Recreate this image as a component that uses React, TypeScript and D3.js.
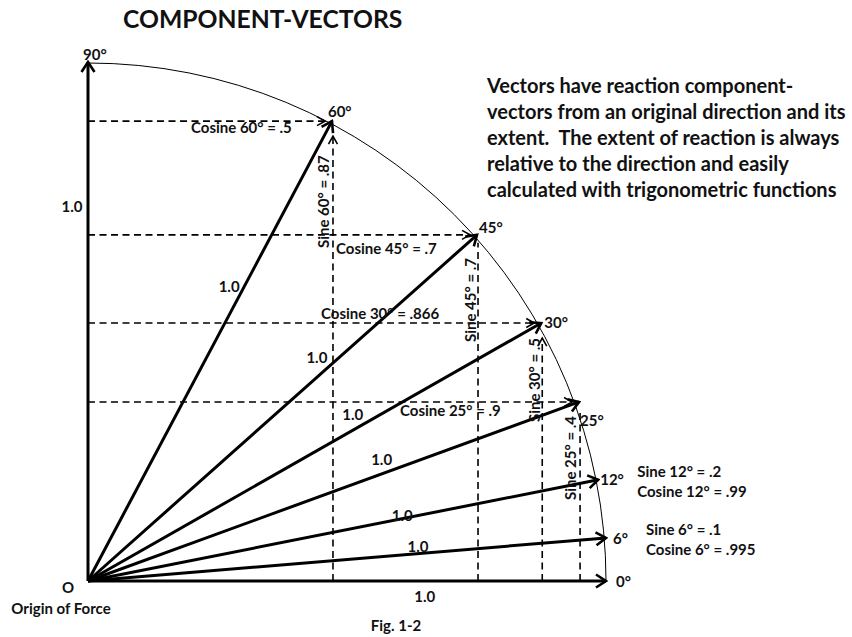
import React from "react";
import * as d3 from "d3";

// ---- data ----
const angleLabels = ["90°", "60°", "45°", "30°", "25°", "12°", "6°", "0°"];
const tipCos = [0, 0.471, 0.751, 0.875, 0.948, 0.985, 1.0, 1.0];
const tipSin = [1, 0.886, 0.667, 0.497, 0.345, 0.195, 0.083, 0];
const magnitudeLabel = "1.0";

// component projections (index into vectors above)
const componentIdx = [1, 2, 3, 4];
const cosineLabels = ["Cosine 60° = .5", "Cosine 45° = .7", "Cosine 30° = .866", "Cosine 25° = .9"];
const sineLabels = ["Sine 60° = .87", "Sine 45° = .7", "Sine 30° = .5", "Sine 25° = .4"];
const verticalArrow = [true, false, true, false];

const sideIdx = [5, 6];
const sideSine = ["Sine 12° = .2", "Sine 6° = .1"];
const sideCosine = ["Cosine 12° = .99", "Cosine 6° = .995"];

const title = "COMPONENT-VECTORS";
const paragraph = [
  "Vectors have reaction component-",
  "vectors from an original direction and its",
  "extent.  The extent of reaction is always",
  "relative to the direction and easily",
  "calculated with trigonometric functions",
];

// ---- layout ----
const W = 852, H = 637;
const FONT = "Lato, 'Open Sans', sans-serif";
const x = d3.scaleLinear().domain([0, 1]).range([88, 606]);
const y = d3.scaleLinear().domain([0, 1]).range([581, 62]);

// angle label offsets (dx, dy from tip, baseline)
const angleLabelOff: [number, number][] = [
  [-5, -2], [-4, -4], [2, -2], [3, 5], [1, 24], [2, 5], [7, 6], [10, 6],
];
// magnitude label: fraction along vector, dx, dy (center, baseline)
const magOff: [number, number, number][] = [
  [0.721, -16, 5],  // 90 (axis)
  [0.64, -15, 5],
  [0.645, -22, 5],
  [0.584, 0, -10],
  [0.598, 0, -9],
  [0.616, 0, 2],
  [0.637, 0, -2],
  [0.65, 0, 21],    // 0 (axis)
];
const cosLabelPos: [number, number][] = [[191, 133], [336, 254], [321, 319], [400, 416]];
const sineLabelBase: [number, number][] = [[-3, 248], [-1.5, 342], [-1, 422], [-3, 500]];

export default function App() {
  const O = { x: x(0), y: y(0) };
  const tips = tipCos.map((c, i) => ({ x: x(c), y: y(tipSin[i]) }));
  const p = d3.path();
  const r = x(1) - x(0);
  p.arc(O.x, O.y, r, -Math.PI / 2, 0, false);

  const textStyle = { fontFamily: FONT, fontWeight: 700, fontSize: 15, fill: "#111" } as const;

  return (
    <svg width={W} height={H} style={{ position: "absolute", left: 0, top: 0, background: "#fff" }}>
      <defs>
        <marker id="arrS" viewBox="-13 -8 15 16" refX={0} refY={0} markerWidth={15} markerHeight={16}
          markerUnits="userSpaceOnUse" orient="auto">
          <path d="M-10,-6.5L0,0L-10,6.5" fill="none" stroke="#000" strokeWidth={2.6} />
        </marker>
        <marker id="arrD" viewBox="-11 -7 13 14" refX={0} refY={0} markerWidth={13} markerHeight={14}
          markerUnits="userSpaceOnUse" orient="auto">
          <path d="M-8,-4.5L0,0L-8,4.5" fill="none" stroke="#000" strokeWidth={1.6} />
        </marker>
      </defs>
      <rect width={W} height={H} fill="#fff" />

      {/* arc */}
      <path d={p.toString()} fill="none" stroke="#000" strokeWidth={1} />

      {/* dashed component lines */}
      {componentIdx.map((vi, k) => {
        const t = tips[vi];
        return (
          <g key={"c" + k}>
            <line x1={O.x} y1={t.y} x2={t.x - 7} y2={t.y} stroke="#000" strokeWidth={1.6}
              strokeDasharray="7,4.5" markerEnd="url(#arrD)" />
            {verticalArrow[k] ? (
              <line x1={t.x + 1} y1={O.y} x2={t.x + 1} y2={t.y + 15} stroke="#000" strokeWidth={1.6}
                strokeDasharray="7,4.5" markerEnd="url(#arrD)" />
            ) : (
              <line x1={t.x + 1} y1={O.y} x2={t.x + 1} y2={t.y + 8} stroke="#000" strokeWidth={1.6}
                strokeDasharray="7,4.5" />
            )}
          </g>
        );
      })}

      {/* vectors */}
      {tips.map((t, i) => (
        <line key={"v" + i} x1={O.x} y1={O.y} x2={t.x} y2={t.y} stroke="#000" strokeWidth={3}
          markerEnd="url(#arrS)" />
      ))}

      {/* angle labels */}
      {tips.map((t, i) => (
        <text key={"a" + i} x={t.x + angleLabelOff[i][0]} y={t.y + angleLabelOff[i][1]} style={textStyle}>
          {angleLabels[i]}
        </text>
      ))}

      {/* magnitude labels */}
      {tips.map((t, i) => {
        const [f, dx, dy] = magOff[i];
        return (
          <text key={"m" + i} x={O.x + (t.x - O.x) * f + dx} y={O.y + (t.y - O.y) * f + dy}
            textAnchor="middle" style={textStyle}>
            {magnitudeLabel}
          </text>
        );
      })}

      {/* cosine / sine labels */}
      {componentIdx.map((vi, k) => (
        <text key={"cl" + k} x={cosLabelPos[k][0]} y={cosLabelPos[k][1]} style={textStyle}>
          {cosineLabels[k]}
        </text>
      ))}
      {componentIdx.map((vi, k) => {
        const bx = tips[vi].x + sineLabelBase[k][0];
        const by = sineLabelBase[k][1];
        return (
          <text key={"sl" + k} transform={`translate(${bx},${by}) rotate(-90)`} style={textStyle}>
            {sineLabels[k]}
          </text>
        );
      })}

      {/* side labels */}
      {sideIdx.map((vi, k) => (
        <g key={"sd" + k}>
          <text x={tips[vi].x + 39 + k} y={tips[vi].y - 3} style={textStyle}>{sideSine[k]}</text>
          <text x={tips[vi].x + 39 + k} y={tips[vi].y + 17} style={textStyle}>{sideCosine[k]}</text>
        </g>
      ))}

      {/* origin */}
      <text x={O.x - 20} y={593} textAnchor="middle" style={textStyle}>O</text>
      <text x={61} y={614} textAnchor="middle" style={textStyle}>Origin of Force</text>
      <text x={396} y={631} textAnchor="middle" style={textStyle}>Fig. 1-2</text>

      {/* title */}
      <text x={123} y={28} style={{ ...textStyle, fontSize: 24.7 }}>{title}</text>

      {/* paragraph */}
      {paragraph.map((line, i) => (
        <text key={"p" + i} x={487} y={93 + i * 26} style={{ ...textStyle, fontSize: 20, whiteSpace: "pre" }}>
          {line}
        </text>
      ))}
    </svg>
  );
}
